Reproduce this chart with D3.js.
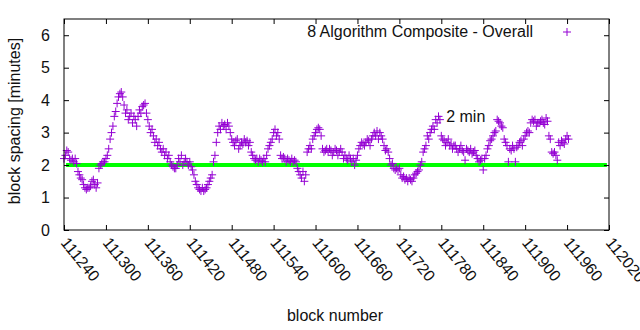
<!DOCTYPE html>
<html>
<head>
<meta charset="utf-8">
<script src="https://cdn.jsdelivr.net/npm/d3@7"></script>
<style>
body { margin: 0; background: #fff; }
svg { display: block; font-family: "Liberation Sans", Arial, sans-serif; }
</style>
</head>
<body>
<svg width="640" height="330"></svg>
<script>
// block spacing (minutes), one value every 2nd block starting at blockStart
var blockStart = 111240, blockStep = 2;
var spacing = [
  2.2,2.3,2.45,2.4,2.2,2.15,2.2,2.1,2.2,2.05,
  1.8,1.7,1.6,1.55,1.4,1.3,1.25,1.3,1.3,1.35,
  1.5,1.55,1.4,1.3,1.45,1.9,2.0,2.05,2.1,2.1,
  2.2,2.3,2.5,2.8,3.0,3.2,3.5,3.65,3.9,4.1,
  4.2,4.25,4.1,3.85,3.6,3.7,3.4,3.5,3.6,3.3,
  3.5,3.4,3.2,3.5,3.7,3.6,3.8,3.85,3.9,3.6,
  3.4,3.2,3.0,3.1,2.9,2.7,2.8,2.6,2.7,2.5,
  2.4,2.5,2.3,2.4,2.2,2.3,2.1,2.0,1.95,1.9,
  1.9,2.0,2.2,2.1,2.3,2.0,2.1,2.2,2.1,2.0,
  2.1,1.95,1.85,1.7,1.5,1.4,1.3,1.25,1.2,1.3,
  1.2,1.25,1.3,1.4,1.5,1.6,1.7,2.1,2.3,2.7,
  3.0,3.2,3.1,3.3,3.2,3.25,3.1,3.3,3.2,3.0,
  2.8,2.7,2.6,2.75,2.8,2.5,2.6,2.7,2.65,2.8,
  2.7,2.75,2.6,2.7,2.4,2.3,2.2,2.15,2.2,2.1,
  2.2,2.15,2.1,2.2,2.1,2.3,2.5,2.6,2.7,2.8,
  3.0,3.1,2.9,3.0,2.8,2.3,2.2,2.25,2.2,2.1,
  2.2,2.15,2.1,2.2,2.1,2.15,2.1,1.9,1.8,1.7,
  1.6,1.8,1.5,1.7,2.4,2.5,2.6,2.5,2.8,2.9,
  3.0,3.1,3.15,3.1,2.9,2.5,2.4,2.45,2.5,2.4,
  2.5,2.45,2.3,2.4,2.5,2.45,2.3,2.4,2.5,2.4,
  2.2,2.3,2.2,2.15,2.3,2.2,2.1,2.2,2.0,2.15,
  2.3,2.5,2.6,2.7,2.65,2.6,2.7,2.8,2.75,2.6,
  2.8,2.9,3.0,2.9,3.05,2.8,3.0,2.9,2.8,2.6,
  2.45,2.5,2.4,2.2,2.0,2.05,1.9,1.85,1.9,1.85,
  1.9,1.7,1.6,1.65,1.55,1.6,1.5,1.6,1.55,1.5,
  1.6,1.7,1.75,1.8,1.85,2.0,2.1,2.4,2.5,2.6,
  2.9,2.8,3.0,3.1,3.2,3.1,3.4,3.3,3.5,3.4,
  2.9,2.8,2.75,2.6,2.7,2.8,2.6,2.65,2.5,2.6,
  2.6,2.5,2.4,2.5,2.6,2.45,2.4,2.15,2.5,2.45,
  2.4,2.5,2.35,2.4,2.45,2.3,2.2,2.1,2.15,2.2,
  1.85,2.2,2.3,2.5,2.6,2.75,2.8,2.9,3.0,3.05,
  3.4,3.35,3.3,3.2,3.15,2.8,2.7,2.6,2.1,2.5,
  2.45,2.6,2.5,2.1,2.55,2.6,2.7,2.75,2.6,2.8,
  2.9,3.0,3.05,3.0,3.3,3.4,3.35,3.4,3.2,3.3,
  3.3,3.35,3.4,3.3,3.25,3.45,3.35,2.9,2.8,2.4,
  2.35,2.4,2.3,2.15,2.7,2.6,2.75,2.7,2.65,2.8,
  2.9,2.8
];
var xTicks = [111240,111300,111360,111420,111480,111540,111600,111660,111720,111780,111840,111900,111960,112020];
var yTicks = [0,1,2,3,4,5,6];
var targetMinutes = 2;
var seriesName = "8 Algorithm Composite - Overall";
var targetLabel = "2 min";

var data = spacing.map(function(v, i) { return {block: blockStart + i * blockStep, val: v}; });

var svg = d3.select("svg"),
    margin = {top: 19, right: 31, bottom: 100, left: 64},
    width = +svg.attr("width") - margin.left - margin.right,
    height = +svg.attr("height") - margin.top - margin.bottom,
    g = svg.append("g").attr("transform", "translate(" + margin.left + "," + margin.top + ")");

var x = d3.scaleLinear().domain([111240, 112020]).range([0, width]);
var y = d3.scaleLinear().domain([0, 6.5]).range([height, 0]);
var purple = "#9400d3";
var font = "16px";
var ink = "#111";

// target line
g.append("line")
  .attr("x1", x(111243)).attr("x2", x(112017))
  .attr("y1", y(targetMinutes)).attr("y2", y(targetMinutes))
  .attr("stroke", "#00ff00").attr("stroke-width", 4);

// points
var cross = 4;
g.append("g").selectAll("path").data(data).enter().append("path")
  .attr("d", function(d) {
    var px = x(d.block), py = y(d.val);
    return "M" + (px - cross) + "," + py + "H" + (px + cross) + "M" + px + "," + (py - cross) + "V" + (py + cross);
  })
  .attr("stroke", purple).attr("stroke-width", 1).attr("fill", "none");

// axes with inward ticks, mirrored
var xb = g.append("g").attr("transform", "translate(0," + height + ")")
  .call(d3.axisBottom(x).tickValues(xTicks).tickSize(-5).tickFormat(""));
var xt = g.append("g").call(d3.axisTop(x).tickValues(xTicks).tickSize(-5).tickFormat(""));
var yl = g.append("g").call(d3.axisLeft(y).tickValues(yTicks).tickSize(-5).tickFormat(""));
var yr = g.append("g").attr("transform", "translate(" + width + ",0)")
  .call(d3.axisRight(y).tickValues(yTicks).tickSize(-5).tickFormat(""));
[xb, xt, yl, yr].forEach(function(a) {
  a.select(".domain").remove();
  a.selectAll("line").attr("stroke", "#000");
});
g.append("rect").attr("width", width).attr("height", height)
  .attr("fill", "none").attr("stroke", "#000").attr("stroke-width", 1);

// tick labels
g.append("g").selectAll("text").data(yTicks).enter().append("text")
  .attr("x", -14).attr("y", function(d) { return y(d); }).attr("dy", "0.36em")
  .attr("text-anchor", "end").style("font-size", font).attr("fill", ink)
  .text(function(d) { return d; });

g.append("g").selectAll("text").data(xTicks).enter().append("text")
  .attr("transform", function(d) { return "translate(" + (x(d) - 4) + "," + (height + 13) + ") rotate(51)"; })
  .attr("text-anchor", "start").style("font-size", font).attr("fill", ink)
  .text(function(d) { return d; });

// axis titles
svg.append("text")
  .attr("transform", "translate(20,121) rotate(-90)")
  .attr("text-anchor", "middle").style("font-size", font).attr("fill", ink)
  .text("block spacing [minutes]");
svg.append("text")
  .attr("x", 335).attr("y", 321)
  .attr("text-anchor", "middle").style("font-size", font).attr("fill", ink)
  .text("block number");

// target label
g.append("text")
  .attr("x", x(111787)).attr("y", y(3.5)).attr("dy", "0.36em")
  .style("font-size", font).attr("fill", ink)
  .text(targetLabel);

// legend
g.append("text")
  .attr("x", 533 - margin.left).attr("y", 37 - margin.top)
  .attr("text-anchor", "end").style("font-size", font).attr("fill", ink)
  .text(seriesName);
g.append("path")
  .attr("d", "M" + (567 - margin.left - cross) + "," + (32 - margin.top) + "h" + (2 * cross) +
       "M" + (567 - margin.left) + "," + (32 - margin.top - cross) + "v" + (2 * cross))
  .attr("stroke", purple).attr("stroke-width", 1);
</script>
</body>
</html>
